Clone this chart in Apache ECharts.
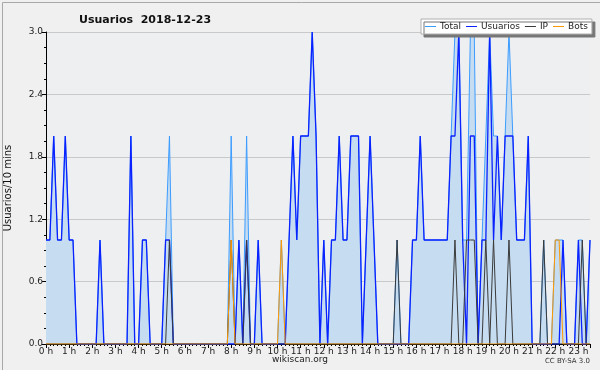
<!DOCTYPE html>
<html>
<head>
<meta charset="utf-8">
<script src="https://cdn.jsdelivr.net/npm/echarts@6/dist/echarts.min.js"></script>
<style>
html,body{margin:0;padding:0;background:#f0f0f0;}
#chart{width:600px;height:370px;}
</style>
</head>
<body>
<div id="chart"></div>
<script>
// one value every 10 minutes, 00:00 -> 23:30 (6 values per row = 1 hour)
var total = [
  1,1,2,1,1,2,  1,1,0,0,0,0,  0,0,1,0,0,0,  0,0,0,0,2,0,
  0,1,1,0,0,0,  0,1,2,0,0,0,  0,0,0,0,0,0,  0,0,0,0,0,0,
  2,0,1,0,2,0,  0,1,0,0,0,0,  0,1,0,1,2,1,  2,2,2,3,2,0,
  1,0,1,1,2,1,  1,2,2,2,0,1,  2,1,0,0,0,0,  0,1,0,0,0,1,
  1,2,1,1,1,1,  1,1,1,2,3,3,  1,1,3,3,0,1,  2,3,2,2,1,2,
  3,2,1,1,1,2,  0,0,0,1,0,0,  1,1,1,0,0,0,  1,1,0,1
];
var usuarios = [
  1,1,2,1,1,2,  1,1,0,0,0,0,  0,0,1,0,0,0,  0,0,0,0,2,0,
  0,1,1,0,0,0,  0,1,1,0,0,0,  0,0,0,0,0,0,  0,0,0,0,0,0,
  0,0,1,0,1,0,  0,1,0,0,0,0,  0,0,0,1,2,1,  2,2,2,3,2,0,
  1,0,1,1,2,1,  1,2,2,2,0,1,  2,1,0,0,0,0,  0,0,0,0,0,1,
  1,2,1,1,1,1,  1,1,1,2,2,3,  1,0,2,2,0,1,  1,3,1,2,1,2,
  2,2,1,1,1,2,  0,0,0,0,0,0,  0,0,1,0,0,0,  1,0,0,1
];
var ip = [
  0,0,0,0,0,0,  0,0,0,0,0,0,  0,0,0,0,0,0,  0,0,0,0,0,0,
  0,0,0,0,0,0,  0,0,1,0,0,0,  0,0,0,0,0,0,  0,0,0,0,0,0,
  1,0,0,0,1,0,  0,0,0,0,0,0,  0,0,0,0,0,0,  0,0,0,0,0,0,
  0,0,0,0,0,0,  0,0,0,0,0,0,  0,0,0,0,0,0,  0,1,0,0,0,0,
  0,0,0,0,0,0,  0,0,0,0,1,0,  0,1,1,1,0,0,  1,0,1,0,0,0,
  1,0,0,0,0,0,  0,0,0,1,0,0,  0,0,0,0,0,0,  0,1,0,0
];
var bots = [
  0,0,0,0,0,0,  0,0,0,0,0,0,  0,0,0,0,0,0,  0,0,0,0,0,0,
  0,0,0,0,0,0,  0,0,0,0,0,0,  0,0,0,0,0,0,  0,0,0,0,0,0,
  1,0,0,0,0,0,  0,0,0,0,0,0,  0,1,0,0,0,0,  0,0,0,0,0,0,
  0,0,0,0,0,0,  0,0,0,0,0,0,  0,0,0,0,0,0,  0,0,0,0,0,0,
  0,0,0,0,0,0,  0,0,0,0,0,0,  0,0,0,0,0,0,  0,0,0,0,0,0,
  0,0,0,0,0,0,  0,0,0,0,0,0,  1,1,0,0,0,0,  0,0,0,0
];
var seriesNames = ['Total', 'Usuarios', 'IP', 'Bots'];
var yTicks = [0, 0.6, 1.2, 1.8, 2.4, 3.0];

var font = "'DejaVu Sans', sans-serif";

function pts(arr) {
  return arr.map(function (v, i) { return [i, v]; });
}

var myChart = echarts.init(document.getElementById('chart'), null, {renderer: 'canvas'});
var option = {
    animation: false,
    backgroundColor: '#f0f0f0',
    textStyle: {fontFamily: font},
    title: {
        text: 'Usuarios  2018-12-23',
        left: 74,
        top: 10,
        textStyle: {fontSize: 11, fontWeight: 'bold', color: '#111', fontFamily: font}
    },
    legend: {
        data: seriesNames,
        left: 421,
        top: 19,
        padding: [3, 4, 3, 4],
        itemGap: 5,
        itemWidth: 11,
        itemHeight: 1,
        icon: 'rect',
        backgroundColor: '#ffffff',
        borderColor: '#b0b0b0',
        borderWidth: 1,
        borderRadius: 0,
        shadowColor: '#777',
        shadowBlur: 0,
        shadowOffsetX: 3,
        shadowOffsetY: 3,
        textStyle: {fontSize: 9, color: '#222', fontFamily: font, padding: [0, 0, 0, -1]}
    },
    grid: {
        left: 46,
        right: 10,
        top: 32,
        bottom: 26,
        show: true,
        backgroundColor: '#eeeff1',
        borderWidth: 0,
        containLabel: false,
        outerBoundsMode: 'none'
    },
    xAxis: {
        type: 'value',
        min: 0,
        max: 141,
        interval: 6,
        axisLine: {lineStyle: {color: '#000', width: 1}},
        axisTick: {length: 4, lineStyle: {color: '#000'}},
        minorTick: {show: true, splitNumber: 6, length: 2, lineStyle: {color: '#000'}},
        splitLine: {show: false},
        axisLabel: {
            fontSize: 9, color: '#222', margin: 3, fontFamily: font,
            formatter: function (v) { return (v / 6) + ' h'; }
        }
    },
    yAxis: {
        type: 'value',
        min: yTicks[0],
        max: yTicks[yTicks.length - 1],
        interval: 0.6,
        name: 'Usuarios/10 mins',
        nameLocation: 'middle',
        nameGap: 33,
        nameTextStyle: {fontSize: 10, color: '#111', fontFamily: font},
        axisLine: {show: true, lineStyle: {color: '#000', width: 1}},
        axisTick: {show: true, length: 4, lineStyle: {color: '#000'}},
        minorTick: {show: true, splitNumber: 4, length: 2, lineStyle: {color: '#000'}},
        splitLine: {lineStyle: {color: '#c9c9c9', width: 1}},
        axisLabel: {
            fontSize: 9, color: '#222', margin: 3, fontFamily: font,
            formatter: function (v) { return v.toFixed(1); }
        }
    },
    series: [
        {
            name: 'Total',
            type: 'line',
            data: pts(total),
            symbol: 'none',
            color: '#3b9cff',
            lineStyle: {width: 1, color: '#3b9cff'},
            areaStyle: {color: '#c6dcf0', opacity: 1},
            z: 2
        },
        {
            name: 'Usuarios',
            type: 'line',
            data: pts(usuarios),
            symbol: 'none',
            color: '#0a22ff',
            lineStyle: {width: 1.3, color: '#0a22ff'},
            z: 3
        },
        {
            name: 'IP',
            type: 'line',
            data: pts(ip),
            symbol: 'none',
            color: '#3a3a3a',
            lineStyle: {width: 1, color: '#3a3a3a'},
            z: 4
        },
        {
            name: 'Bots',
            type: 'line',
            data: pts(bots),
            symbol: 'none',
            color: '#ff9900',
            lineStyle: {width: 1, color: '#ff9900'},
            z: 5
        }
    ],
    graphic: [
        {
            type: 'rect', left: 0, top: 0, silent: true,
            shape: {x: 0.5, y: 0.5, width: 599, height: 369},
            style: {fill: 'none', stroke: '#a8a8a8', lineWidth: 1}
        },
        {
            type: 'text', left: 'center', top: 355,
            style: {text: 'wikiscan.org', font: '9px ' + font, fill: '#222'}
        },
        {
            type: 'text', right: 10, top: 358,
            style: {text: 'CC BY-SA 3.0', font: '7px ' + font, fill: '#333'}
        }
    ]
};
myChart.setOption(option);
</script>
</body>
</html>
